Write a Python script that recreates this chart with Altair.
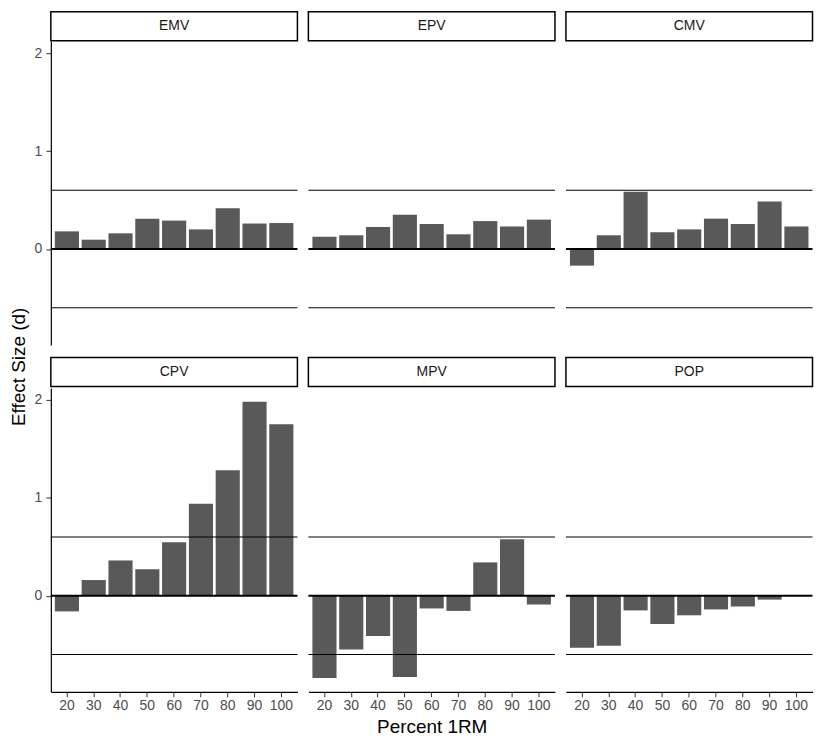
import altair as alt
import pandas as pd

FONT = "Liberation Sans"

groups = ["EMV", "EPV", "CMV", "CPV", "MPV", "POP"]
percent = ["20", "30", "40", "50", "60", "70", "80", "90", "100"]
emv = [0.18, 0.095, 0.16, 0.31, 0.29, 0.20, 0.415, 0.26, 0.265]
epv = [0.125, 0.14, 0.225, 0.35, 0.255, 0.15, 0.285, 0.23, 0.30]
cmv = [-0.17, 0.14, 0.585, 0.17, 0.20, 0.31, 0.255, 0.485, 0.23]
cpv = [-0.16, 0.16, 0.36, 0.27, 0.545, 0.94, 1.28, 1.98, 1.75]
mpv = [-0.84, -0.55, -0.41, -0.83, -0.13, -0.155, 0.34, 0.577, -0.09]
pop = [-0.53, -0.51, -0.15, -0.29, -0.20, -0.14, -0.11, -0.04, 0.0]
series = [emv, epv, cmv, cpv, mpv, pop]
thresholds = [0.6, -0.6]
zero_line = [0.0]
y_ticks = [0, 1, 2]
ydomain = [-0.981, 2.121]

W = 247.5
H = 305
STRIP_H = 29
GAP = 10.5

yscale = alt.Scale(domain=ydomain, nice=False, zero=False)
xscale = alt.Scale(paddingInner=0.1, paddingOuter=0.15)


def panel(name, vals, row, col):
    df = pd.DataFrame({"pct": percent, "d": vals})
    if row == 1:
        xaxis = alt.Axis(
            title="Percent 1RM" if col == 1 else None,
            labelAngle=0,
            labelColor="#4D4D4D",
            labelFontSize=14,
            labelFont=FONT,
            labelPadding=2,
            tickSize=5,
            tickColor="#333333",
            domainColor="black",
            domainWidth=1.2,
            titleFontSize=19,
            titleFont=FONT,
            titleFontWeight="normal",
            titleColor="black",
            titlePadding=5,
            grid=False,
        )
    else:
        xaxis = None
    if col == 0:
        yaxis = alt.Axis(
            title=None,
            values=y_ticks,
            labelColor="#4D4D4D",
            labelFontSize=14,
            labelFont=FONT,
            labelPadding=4,
            tickSize=5,
            tickColor="#333333",
            domainColor="black",
            domainWidth=1.2,
            grid=False,
        )
    else:
        yaxis = None
    bars = alt.Chart(df).mark_bar(color="#595959").encode(
        x=alt.X("pct:N", sort=percent, scale=xscale, axis=xaxis),
        y=alt.Y("d:Q", scale=yscale, axis=yaxis),
        y2=alt.datum(0),
    )
    th = alt.Chart(pd.DataFrame({"t": thresholds})).mark_rule(
        color="black", strokeWidth=1.1
    ).encode(y=alt.Y("t:Q", scale=yscale, axis=yaxis))
    z = alt.Chart(pd.DataFrame({"t": zero_line})).mark_rule(
        color="black", strokeWidth=2
    ).encode(y=alt.Y("t:Q", scale=yscale, axis=yaxis))
    return alt.layer(bars, th, z).properties(width=W, height=H)


def strip(name, top_gap, cell_h):
    df = pd.DataFrame({"g": [name]})
    box = alt.Chart(df).mark_rect(
        fill="white", stroke="black", strokeWidth=1.5
    ).encode(
        x=alt.value(0), x2=alt.value(W),
        y=alt.value(top_gap), y2=alt.value(top_gap + STRIP_H),
    )
    txt = alt.Chart(df).mark_text(
        fontSize=14, color="#1A1A1A", font=FONT, baseline="middle", align="center"
    ).encode(
        text="g:N", x=alt.value(W / 2), y=alt.value(top_gap + STRIP_H / 2)
    )
    return alt.layer(box, txt).properties(width=W, height=cell_h)


cells = []
cells += [strip(g, 0.5, 30) for g in groups[:3]]
cells += [panel(groups[i], series[i], 0, i) for i in range(3)]
cells += [strip(g, 12.5, 42.5) for g in groups[3:]]
cells += [panel(groups[i + 3], series[i + 3], 1, i) for i in range(3)]

chart = alt.concat(
    *cells, columns=3, spacing={"row": 0, "column": GAP}, bounds="flush", align="each"
).properties(
    title=alt.TitleParams(
        "Effect Size (d)",
        orient="left",
        anchor="middle",
        fontSize=19,
        font=FONT,
        fontWeight="normal",
        color="black",
        offset=5,
        dx=7,
    ),
    padding={"left": 2, "top": 1, "right": 0, "bottom": 0},
).configure_view(stroke=None)

chart.save("out.html", embed_options={"renderer": "svg", "actions": False})
